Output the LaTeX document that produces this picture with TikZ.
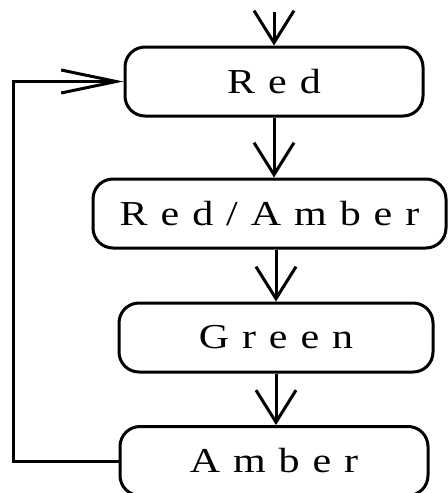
\documentclass[tikz,border=0pt]{standalone}
\usepackage{fontspec}
\setmainfont{Liberation Serif}
\newfontfamily\spacedfont[LetterSpace=37,FakeStretch=1.2]{Liberation Serif}
\usetikzlibrary{arrows.meta}

\begin{document}
\begin{tikzpicture}[x=.5pt,y=-.5pt,line width=1.5pt,
  state/.style={draw,rounded corners=10pt,inner sep=0pt,minimum height=34.5pt,
    font=\spacedfont\fontsize{17.5}{21}\selectfont},
  flow/.style={-{Straight Barb[length=16pt,width=20pt]}},
  back/.style={-{Straight Barb[length=27.5pt,width=11.5pt]}}]
  \useasboundingbox (0,0) rectangle (448,493);
  \coordinate (S) at (274,12); \coordinate (L) at (13,461);
  \node[state,minimum width=149pt] (R) at (274,81.5) {Red};
  \node[state,minimum width=176.5pt] (RA) at (269.5,213.5) {Red/Amber};
  \node[state,minimum width=157pt] (G) at (276,337.5) {Green};
  \node[state,minimum width=154pt] (A) at (274,461) {Amber};
  \draw[flow] (S)--(R);
  \draw[flow] (R.south)--(R.south|-RA.north);
  \draw[flow] (RA.south-|G.north)--(G.north);
  \draw[flow] (G.south)--(G.south|-A.north);
  \draw[back] (A.west)--(L)|-(R.west);
\end{tikzpicture}
\end{document}
